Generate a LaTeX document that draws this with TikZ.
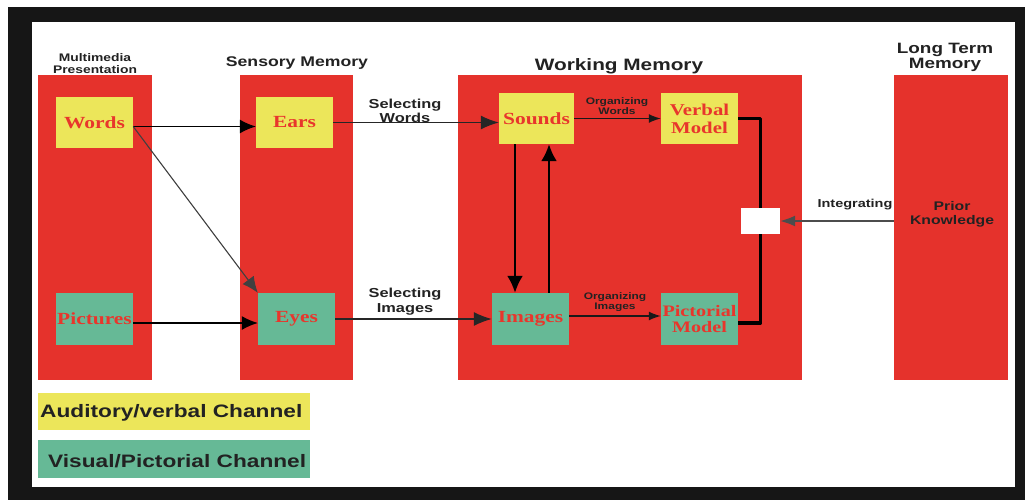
\documentclass[tikz,border=0pt]{standalone}
\usepackage{fontspec}
\usetikzlibrary{arrows.meta,calc}
\newfontfamily\labf[FakeStretch=1.26]{Liberation Sans}
\newfontfamily\boxf[FakeStretch=1.26]{Liberation Serif}
\definecolor{cred}{HTML}{E5322C}
\definecolor{cyel}{HTML}{ECE65A}
\definecolor{cgrn}{HTML}{66B996}
\definecolor{ctxt}{HTML}{E8362C}
\definecolor{cdark}{HTML}{222222}
\definecolor{cframe}{HTML}{161616}
\begin{document}
\begin{tikzpicture}[x=1pt,y=-1pt,
  column/.style={fill=cred,draw=none,inner sep=0,anchor=north west},
  ybox/.style={fill=cyel,draw=none,inner sep=0,minimum width=77pt,minimum height=51pt,
    text=ctxt,align=center,font=\boxf\bfseries\fontsize{17}{19}\selectfont},
  gbox/.style={ybox,fill=cgrn},
  lbl/.style={text=cdark,align=center,inner sep=0},
  legbox/.style={draw=none,inner sep=0,minimum width=272pt,anchor=north west},
  legtxt/.style={text=cdark,inner sep=0,anchor=west,font=\labf\bfseries\fontsize{18}{20}\selectfont},
  arr/.style={draw=black,line width=1.4pt,-{Latex[length=16pt,width=14pt]}},
  selarr/.style={draw=black!85,line width=1.2pt,-{Latex[length=18pt,width=14pt]}},
  orgarr/.style={draw=black!90,line width=1.4pt,-{Latex[length=12pt,width=9pt]}},
  vertarr/.style={draw=black,line width=2.4pt,-{Latex[length=17pt,width=16pt]}},
  thickline/.style={draw=black,line width=3.5pt,line join=round}
]
\useasboundingbox (0,0) rectangle (1025,500);
\fill[white] (0,0) rectangle (1025,500);
\fill[cframe] (8,7) rectangle (1025,500);
\fill[white] (32,22) rectangle (1015,487);

% columns
\node[column,minimum width=114pt,minimum height=305pt] (MM) at (38,75) {};
\node[column,minimum width=113pt,minimum height=305pt] (SM) at (240,75) {};
\node[column,minimum width=344pt,minimum height=305pt] (WM) at (458,75) {};
\node[column,minimum width=114pt,minimum height=305pt] (LT) at (894,75) {};

% column titles
\node[lbl,font=\labf\bfseries\fontsize{11}{12}\selectfont] (tMM) at (95,64) {Multimedia\\Presentation};
\node[lbl,font=\labf\bfseries\fontsize{14}{16}\selectfont] (tSM) at (297,63) {Sensory Memory};
\node[lbl,font=\labf\bfseries\fontsize{16.5}{18}\selectfont] (tWM) at (619,66) {Working Memory};
\node[lbl,font=\labf\bfseries\fontsize{15}{15}\selectfont] (tLT) at (945,57) {Long Term\\Memory};

% boxes
\node[ybox] (Words) at (94.5,122.5) {Words};
\node[ybox] (Ears) at (294.5,122.5) {Ears};
\node[gbox,minimum height=52pt] (Pictures) at (94.5,319) {Pictures};
\node[gbox,minimum height=52pt] (Eyes) at (296.5,319) {Eyes};
\node[ybox,minimum width=75pt] (Sounds) at (536.5,118.5) {Sounds};
\node[ybox,font=\boxf\bfseries\fontsize{16.5}{18}\selectfont] (Verbal) at (699.5,118.5) {Verbal\\Model};
\node[gbox,minimum height=52pt] (Images) at (530.5,319) {Images};
\node[gbox,minimum height=52pt,font=\boxf\bfseries\fontsize{16}{15.5}\selectfont] (Pictorial) at (699.5,319) {Pictorial\\Model};
\node[fill=white,draw=none,inner sep=0,minimum width=39pt,minimum height=26pt] (Integ) at (760.5,221) {};

% labels
\node[lbl,font=\labf\bfseries\fontsize{13}{14}\selectfont] (lSW) at (405,111) {Selecting\\Words};
\node[lbl,font=\labf\bfseries\fontsize{13}{15}\selectfont] (lSI) at (405,301.5) {Selecting\\Images};
\node[lbl,font=\labf\bfseries\fontsize{9.5}{10}\selectfont] (lOW) at (617,106) {Organizing\\Words};
\node[lbl,font=\labf\bfseries\fontsize{9.5}{10}\selectfont] (lOI) at (615,302) {Organizing\\Images};
\node[lbl,font=\labf\bfseries\fontsize{11.5}{13}\selectfont] (lInt) at (855,205) {Integrating};
\node[lbl,font=\labf\bfseries\fontsize{12.5}{14}\selectfont] (lPK) at (952,214) {Prior\\Knowledge};

% connectors
\draw[arr] ([yshift=-4pt]Words.east) -- ([yshift=-4pt]Ears.west);
\draw[arr,draw=black!75,line width=1.1pt] ([yshift=-4pt]Words.east) -- (Eyes.north west);
\draw[arr] ([yshift=-4pt]Pictures.east) -- ([yshift=-4pt]Eyes.west);
\draw[selarr] (Ears.east) -- (Sounds.west |- Ears.east);
\draw[selarr] (Eyes.east) -- (Images.west);
\draw[orgarr] (Sounds.east) -- (Verbal.west);
\draw[orgarr] ([yshift=3pt]Images.east) -- ([yshift=3pt]Pictorial.west);
\draw[vertarr] ([xshift=-21.5pt]Sounds.south) -- ([xshift=-21.5pt]Sounds.south |- Images.north);
\draw[vertarr] ([xshift=12.5pt]Sounds.south |- Images.north) -- ([xshift=12.5pt]Sounds.south);
\draw[thickline] (Verbal.east) -| (Integ.north);
\draw[thickline] ([yshift=-4pt]Pictorial.east) -| (Integ.south);
\draw[draw=black!70,line width=1.5pt,-{Latex[length=15pt,width=11pt]}] (LT.west |- Integ.east) -- (Integ.east);

% legend
\node[legbox,fill=cyel,minimum height=37pt] (LegA) at (38,393) {};
\node[legbox,fill=cgrn,minimum height=38pt] (LegV) at (38,440) {};
\node[legtxt] (LegAt) at (40,413) {Auditory/verbal Channel};
\node[legtxt] (LegVt) at (48,461) {Visual/Pictorial Channel};
\end{tikzpicture}
\end{document}
